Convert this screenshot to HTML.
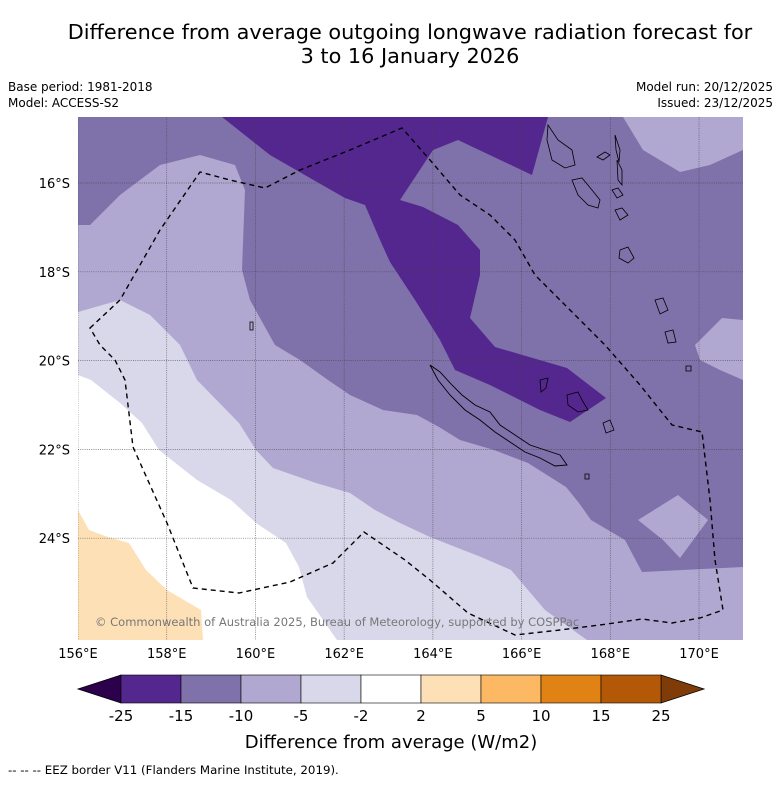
<!DOCTYPE html>
<html><head><meta charset="utf-8">
<style>
body{margin:0;background:#fff;width:781px;height:781px;overflow:hidden;font-family:"Liberation Sans","DejaVu Sans",sans-serif}
svg text{font-family:"DejaVu Sans","Liberation Sans",sans-serif}
</style></head>
<body>
<svg id="chart" width="781" height="781" viewBox="0 0 781 781" xmlns="http://www.w3.org/2000/svg">
<text x="410" y="39" font-size="20.8" text-anchor="middle">Difference from average outgoing longwave radiation forecast for</text>
<text x="410" y="63" font-size="20.8" text-anchor="middle">3 to 16 January 2026</text>
<text x="8" y="91" font-size="12">Base period: 1981-2018</text>
<text x="8" y="107" font-size="12">Model: ACCESS-S2</text>
<text x="773" y="91" font-size="12" text-anchor="end">Model run: 20/12/2025</text>
<text x="773" y="107" font-size="12" text-anchor="end">Issued: 23/12/2025</text>
<defs><clipPath id="mapclip"><rect x="78" y="117" width="665" height="523"/></clipPath></defs>
<g id="map" clip-path="url(#mapclip)"></g>
<g id="axes"></g>
<g id="cbar"></g>
<text x="391" y="748" font-size="18" text-anchor="middle">Difference from average (W/m2)</text>
<text x="8" y="774" font-size="11.8">--  --  -- EEZ border V11 (Flanders Marine Institute, 2019).</text>
</svg>
<script>
const lonTicks=[156,158,160,162,164,166,168,170];
const latTicks=[16,18,20,22,24];
const cbLevels=["-25","-15","-10","-5","-2","2","5","10","15","25"];
const cbColors=["#54278f","#7f71aa","#b0a8d0","#d9d8ea","#ffffff","#fee0b6","#fdb863","#e08214","#b35806"];
const cbExtLow="#2d004b", cbExtHigh="#7f3b08";
// contour geometry (map pixel space)
const regionLight=[[78,225],[90,225],[120,195],[160,165],[200,155],[235,165],[245,190],[242,270],[250,300],[275,345],[300,360],[328,380],[350,395],[383,410],[417,415],[439,427],[460,440],[494,450],[528,463],[566,487],[579,503],[591,520],[625,540],[642,572],[743,567],[743,640],[78,640]];
const regionLighter=[[78,312],[120,300],[150,315],[180,345],[197,380],[239,423],[256,450],[273,468],[316,483],[350,493],[375,510],[400,523],[430,537],[481,557],[511,570],[545,610],[587,640],[78,640]];
const regionWhite=[[78,375],[91,380],[120,403],[142,423],[159,450],[197,480],[231,500],[256,523],[286,543],[299,567],[307,597],[337,640],[78,640]];
const regionOrange=[[78,510],[89,530],[108,537],[129,543],[146,570],[167,590],[201,610],[203,640],[78,640]];
const regionDark=[[222,117],[548,117],[532,175],[458,140],[433,150],[400,200],[423,207],[458,225],[480,250],[480,275],[470,318],[495,347],[567,368],[606,398],[570,422],[540,410],[490,385],[455,370],[440,340],[415,300],[390,262],[380,240],[365,205],[345,198],[310,178],[270,155]];
const patchTopRight=[[623,117],[743,117],[743,150],[710,165],[680,172],[643,150]];
const patchRight=[[743,320],[722,318],[695,345],[700,360],[720,370],[743,380]];
const patchBottomRight=[[638,520],[678,495],[708,520],[680,558],[663,540]];
const eez=[[90,328],[120,300],[160,230],[200,172],[230,180],[265,188],[300,170],[350,150],[402,128],[430,160],[460,195],[490,215],[515,240],[535,275],[570,310],[605,345],[640,385],[672,425],[702,432],[710,500],[715,560],[723,610],[700,618],[672,623],[642,619],[600,625],[560,630],[515,635],[468,613],[430,580],[405,560],[364,532],[333,563],[290,582],[239,593],[193,588],[167,523],[133,447],[125,380],[115,360],[100,345],[90,328]];
const newCaledonia=[[430,365],[440,372],[452,385],[462,395],[475,405],[490,412],[500,425],[515,435],[530,445],[545,450],[560,455],[567,465],[555,466],[540,458],[525,452],[510,442],[495,432],[480,420],[465,410],[450,395],[438,380],[430,365]];
const islands=[
[[548,125],[558,140],[572,150],[575,165],[565,168],[552,160],[547,140]],
[[572,180],[582,178],[592,190],[600,200],[598,208],[588,205],[578,195]],
[[597,157],[605,152],[610,155],[603,160]],
[[615,135],[620,150],[619,162],[616,150]],
[[617,160],[622,170],[622,185],[618,180]],
[[612,190],[618,188],[623,195],[617,198]],
[[615,210],[622,208],[628,215],[620,220]],
[[620,250],[628,247],[634,258],[628,263],[619,258]],
[[655,300],[663,298],[668,310],[660,314]],
[[665,332],[673,330],[676,342],[668,343]],
[[567,395],[578,392],[582,400],[588,410],[578,412],[568,405]],
[[540,380],[548,378],[546,388],[541,392]],
[[603,423],[610,420],[614,430],[606,433]],
[[686,366],[691,366],[691,371],[686,371]],
[[585,474],[589,474],[589,479],[585,479]],
[[250,322],[253,322],[253,330],[250,330]]
];
const NS="http://www.w3.org/2000/svg";
const X=lon=>78+(lon-156)*44.36;
const Y=lat=>183+(lat-16)*44.4;
function poly(parent,pts,fill,name,stroke,dash,sw){
  const p=document.createElementNS(NS,"polygon");
  p.setAttribute("points",pts.map(a=>a.join(",")).join(" "));
  p.setAttribute("fill",fill);
  if(stroke){p.setAttribute("stroke",stroke);p.setAttribute("stroke-width",sw||0.8);}
  if(dash)p.setAttribute("stroke-dasharray",dash);
  
  
  parent.appendChild(p);return p;
}
const map=document.getElementById("map");
const bg=document.createElementNS(NS,"rect");
bg.setAttribute("x",78);bg.setAttribute("y",117);bg.setAttribute("width",665);bg.setAttribute("height",523);bg.setAttribute("fill",cbColors[1]);


map.appendChild(bg);
poly(map,regionLight,cbColors[2],"contour-minus10-to-minus5");
poly(map,regionLighter,cbColors[3],"contour-minus5-to-minus2");
poly(map,regionWhite,cbColors[4],"contour-minus2-to-2");
poly(map,regionOrange,cbColors[5],"contour-2-to-5");
poly(map,regionDark,cbColors[0],"contour-minus25-to-minus15");
poly(map,patchTopRight,cbColors[2],"contour-patch-top-right");
poly(map,patchRight,cbColors[2],"contour-patch-right");
poly(map,patchBottomRight,cbColors[2],"contour-patch-bottom-right");
lonTicks.concat([171]).forEach(l=>{const x=X(l);const g=document.createElementNS(NS,"line");
g.setAttribute("x1",x);g.setAttribute("x2",x);g.setAttribute("y1",117);g.setAttribute("y2",640);
g.setAttribute("stroke","#444");g.setAttribute("stroke-width",0.7);g.setAttribute("stroke-dasharray","1,1.2");g.setAttribute("opacity","0.8");


map.appendChild(g);});
latTicks.forEach(l=>{const y=Y(l);const g=document.createElementNS(NS,"line");
g.setAttribute("x1",78);g.setAttribute("x2",743);g.setAttribute("y1",y);g.setAttribute("y2",y);
g.setAttribute("stroke","#444");g.setAttribute("stroke-width",0.7);g.setAttribute("stroke-dasharray","1,1.2");g.setAttribute("opacity","0.8");


map.appendChild(g);});
poly(map,newCaledonia,"none","new-caledonia-coastline","#000",null,0.9);
islands.forEach(is=>poly(map,is,"none","island-coastline","#000",null,0.8));
poly(map,eez,"none","eez-border","#000","5,4",1.4);
const cr=document.createElementNS(NS,"text");
cr.setAttribute("x",95);cr.setAttribute("y",626);cr.setAttribute("font-size",11.5);cr.setAttribute("fill","#777");
cr.textContent="© Commonwealth of Australia 2025, Bureau of Meteorology, supported by COSPPac";


map.appendChild(cr);
const axes=document.getElementById("axes");
lonTicks.forEach(l=>{const t=document.createElementNS(NS,"text");
t.setAttribute("x",X(l));t.setAttribute("y",658);t.setAttribute("font-size",13);t.setAttribute("text-anchor","middle");
t.textContent=l+"°E";


axes.appendChild(t);});
latTicks.forEach(l=>{const t=document.createElementNS(NS,"text");
t.setAttribute("x",70);t.setAttribute("y",Y(l)+5);t.setAttribute("font-size",13);t.setAttribute("text-anchor","end");
t.textContent=l+"°S";


axes.appendChild(t);});
const cb=document.getElementById("cbar");
const cx0=121,cw=60,cy=675,ch=28;
poly(cb,[[cx0,cy],[cx0,cy+ch],[78,cy+ch/2]],cbExtLow,"colorbar-extend-low","#000",null,0.8);
poly(cb,[[cx0+cw*cbColors.length,cy],[cx0+cw*cbColors.length,cy+ch],[704,cy+ch/2]],cbExtHigh,"colorbar-extend-high","#000",null,0.8);
cbColors.forEach((c,i)=>{const r=document.createElementNS(NS,"rect");
r.setAttribute("x",cx0+i*cw);r.setAttribute("y",cy);r.setAttribute("width",cw);r.setAttribute("height",ch);
r.setAttribute("fill",c);r.setAttribute("stroke","#000");r.setAttribute("stroke-width",0.6);


cb.appendChild(r);});
cbLevels.forEach((v,i)=>{const t=document.createElementNS(NS,"text");
t.setAttribute("x",cx0+i*cw);t.setAttribute("y",721);t.setAttribute("font-size",15);t.setAttribute("text-anchor","middle");
t.textContent=v;


cb.appendChild(t);});
</script>
</body></html>
